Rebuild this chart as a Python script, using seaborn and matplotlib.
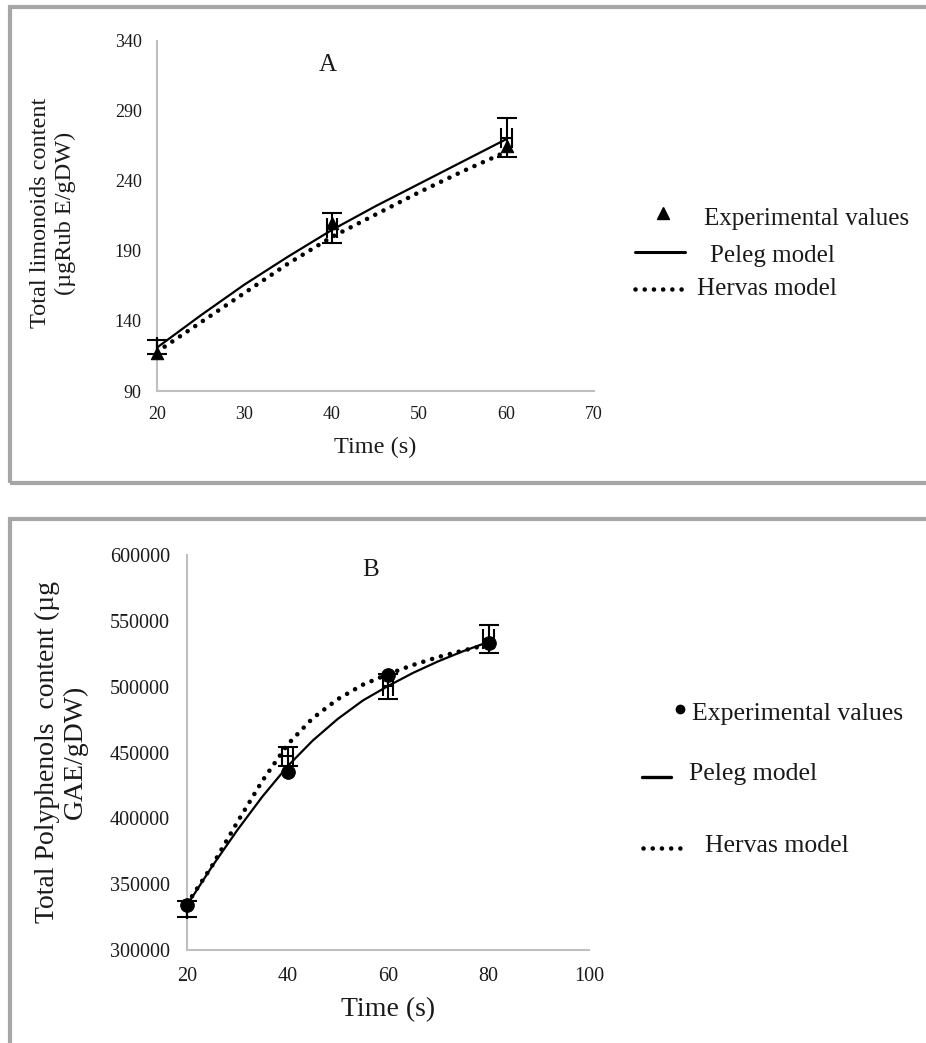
import matplotlib
matplotlib.use('Agg')
import matplotlib.pyplot as plt
from matplotlib.patches import Rectangle
from matplotlib.lines import Line2D
import seaborn as sns

# ---- data ----
# panel A: total limonoids
time_a = [20, 40, 60]
limonoids_exp = [117, 210, 265]
limonoids_err_mid = [121.5, 206.5, 271]
limonoids_err = [5, 10.5, 14]
limonoids_xerr = [0, 0.6, 0.6]
fit_time_a = [20, 25, 30, 35, 40, 45, 50, 55, 60]
limonoids_peleg = [121, 144, 166, 186, 205, 222, 238, 254, 270]
limonoids_hervas = [118, 139, 160, 181, 200, 216, 232, 247, 261]

# panel B: total polyphenols
time_b = [20, 40, 60, 80]
polyphenols_exp = [333900, 435000, 508500, 533500]
polyphenols_err_mid = [331000, 447000, 500500, 536000]
polyphenols_err = [6000, 7000, 9500, 10800]
polyphenols_xerr = [0, 1.0, 1.0, 1.0]
fit_time_b = [20, 25, 30, 35, 40, 45, 50, 55, 60, 65, 70, 75, 80]
polyphenols_peleg = [334000, 363500, 391000, 416500, 439500, 459000, 475500,
                     489500, 500500, 510500, 519250, 527000, 534000]
polyphenols_hervas = [335000, 364000, 397000, 428500, 456000, 476000, 490500,
                      501500, 509500, 516500, 522500, 527500, 532000]

W, H = 926, 1043
sns.set_style('white')
plt.rcParams['font.family'] = ['Liberation Serif', 'DejaVu Serif']

fig = plt.figure(figsize=(W / 100, H / 100), dpi=100)


def fx(x):
    return x / W


def fy(y):
    return 1 - y / H


def axes_px(left, right, top, bottom):
    return fig.add_axes([fx(left), fy(bottom), (right - left) / W, (bottom - top) / H])


axis_grey = '#bfbfbf'
txt = '#1a1a1a'
dots = (0, (0.01, 2.0))

# panel frames
for top, bottom in [(7, 483), (519, 1060)]:
    fig.add_artist(Rectangle((fx(10), fy(bottom)), fx(940 - 10), (bottom - top) / H,
                             transform=fig.transFigure, fill=False,
                             edgecolor='#a6a6a6', linewidth=3))

# ---------- panel A ----------
ax = axes_px(157, 594, 41, 391)
sns.lineplot(x=fit_time_a, y=limonoids_peleg, ax=ax, color='black', lw=1.6)
sns.lineplot(x=fit_time_a, y=limonoids_hervas, ax=ax, color='black', lw=3.3,
             linestyle=dots, dash_capstyle='round')
ax.errorbar(time_a, limonoids_err_mid, yerr=limonoids_err, xerr=limonoids_xerr, fmt='none',
            ecolor='black', elinewidth=1.5, capsize=7, capthick=1.5, zorder=4, clip_on=False)
sns.scatterplot(x=time_a, y=limonoids_exp, ax=ax, marker='^', s=80, color='black',
                edgecolor='black', zorder=5, clip_on=False)
ax.set_xlim(20, 70)
ax.set_ylim(90, 340)
ax.set_xticks(range(20, 71, 10))
ax.set_yticks(range(90, 341, 50))
ax.tick_params(length=0, pad=11, labelsize=13, labelcolor=txt)
ax.text(39.5, 323, 'A', fontsize=18, ha='center', va='center', color=txt)

# ---------- panel B ----------
bx = axes_px(187, 589, 555, 950)
sns.lineplot(x=fit_time_b, y=polyphenols_peleg, ax=bx, color='black', lw=1.6)
sns.lineplot(x=fit_time_b, y=polyphenols_hervas, ax=bx, color='black', lw=3.3,
             linestyle=dots, dash_capstyle='round')
bx.errorbar(time_b, polyphenols_err_mid, yerr=polyphenols_err, xerr=polyphenols_xerr, fmt='none',
            ecolor='black', elinewidth=1.5, capsize=7, capthick=1.5, zorder=4, clip_on=False)
sns.scatterplot(x=time_b, y=polyphenols_exp, ax=bx, marker='o', s=95, color='black',
                edgecolor='black', zorder=5, clip_on=False)
bx.set_xlim(20, 100)
bx.set_ylim(300000, 600000)
bx.set_xticks(range(20, 101, 20))
bx.set_yticks(range(300000, 600001, 50000))
bx.tick_params(direction='out', length=4.3, width=1.5, color=axis_grey, pad=8,
               labelsize=14.5, labelcolor=txt)
bx.text(56.6, 588600, 'B', fontsize=18, ha='center', va='center', color=txt)

for a in (ax, bx):
    sns.despine(ax=a)
    for side in ('left', 'bottom'):
        a.spines[side].set_color(axis_grey)
        a.spines[side].set_linewidth(1.5)
    a.set_xlabel('')
    a.set_ylabel('')
    a.grid(False)

# axis titles
fig.text(fx(53), fy(213), 'Total limonoids content\n(\u00b5gRub E/gDW)', rotation=90,
         ha='center', va='center', multialignment='center', fontsize=17.5, color=txt,
         linespacing=1.2)
fig.text(fx(375), fy(447), 'Time (s)', ha='center', va='center', fontsize=17.5, color=txt)
fig.text(fx(61), fy(752), 'Total Polyphenols  content (\u00b5g\nGAE/gDW)', rotation=90,
         ha='center', va='center', multialignment='center', fontsize=20, color=txt,
         linespacing=1.15)
fig.text(fx(388), fy(1010), 'Time (s)', ha='center', va='center', fontsize=20, color=txt)

# legends
def leg_line(x0, x1, y, **kw):
    fig.add_artist(Line2D([fx(x0), fx(x1)], [fy(y), fy(y)], transform=fig.transFigure,
                          color='black', **kw))


def leg_text(x, y, s, size):
    fig.text(fx(x), fy(y), s, ha='left', va='baseline', fontsize=size, color=txt)


fig.add_artist(Line2D([fx(663)], [fy(213)], transform=fig.transFigure, marker='^',
                      markersize=8, color='black', linestyle='none'))
leg_text(704, 225, 'Experimental values', 18)
leg_line(635, 685, 252, lw=2.2)
leg_text(710, 262, 'Peleg model', 18)
leg_line(635, 686, 289, lw=3.3, linestyle=dots, dash_capstyle='round')
leg_text(697, 295, 'Hervas model', 18)

fig.add_artist(Line2D([fx(680)], [fy(709)], transform=fig.transFigure, marker='o',
                      markersize=6, color='black', linestyle='none'))
leg_text(692, 720, 'Experimental values', 18.5)
leg_line(642, 671, 777, lw=2.4)
leg_text(689, 780, 'Peleg model', 18.5)
leg_line(643, 686, 848, lw=3.3, linestyle=dots, dash_capstyle='round')
leg_text(705, 852, 'Hervas model', 18.5)

fig.savefig('out.png', dpi=100)
